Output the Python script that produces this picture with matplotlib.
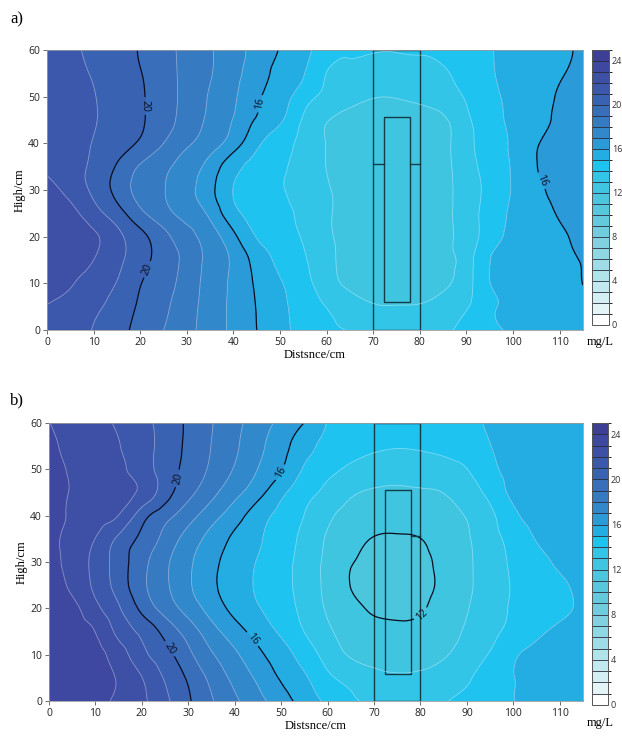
import numpy as np
import matplotlib
matplotlib.use("Agg")
import matplotlib.pyplot as plt
import matplotlib.tri as mtri
from matplotlib.colors import ListedColormap, BoundaryNorm
from matplotlib.colorbar import ColorbarBase
from matplotlib.patches import Rectangle

# grid of the measurement field (cm)
distance_cm = [0, 5, 10, 15, 20, 25, 30, 35, 40, 45, 50, 55,
               60, 65, 70, 75, 80, 85, 90, 95, 100, 105, 110, 115]
height_cm = [0, 5, 10, 15, 20, 25, 30, 35, 40, 45, 50, 55, 60]

# concentration (mg/L), one row per height, bottom row first -- panel a
conc_a = [
    [21.9, 21.5, 20.95, 20.34, 19.69, 19.0, 18.29, 17.54, 16.77, 16.0, 15.29, 14.68, 14.15, 13.97, 13.93, 13.92, 13.93, 13.97, 14.15, 14.72, 15.14, 15.36, 15.57, 15.78],
    [21.95, 21.6, 21.2, 20.61, 19.86, 19.2, 18.41, 17.57, 16.76, 15.96, 15.22, 14.6, 13.97, 13.5, 13.1, 13.05, 13.1, 13.4, 13.9, 14.8, 15.2, 15.42, 15.64, 15.86],
    [22.5, 22.1, 21.55, 20.96, 20.05, 19.38, 18.56, 17.63, 16.78, 15.85, 15.08, 14.35, 13.45, 12.8, 12.6, 12.55, 12.6, 12.85, 13.6, 14.98, 15.24, 15.48, 15.71, 16.01],
    [22.5, 22.4, 22.0, 21.26, 20.38, 19.55, 18.69, 17.69, 16.81, 15.61, 14.78, 14.13, 13.27, 12.75, 12.55, 12.5, 12.55, 12.8, 13.5, 14.98, 15.26, 15.51, 15.78, 16.06],
    [22.6, 22.45, 22.15, 21.29, 20.31, 19.31, 18.38, 17.46, 16.24, 14.95, 14.44, 13.9, 13.17, 12.7, 12.5, 12.45, 12.5, 12.75, 13.45, 14.53, 15.21, 15.54, 15.87, 16.2],
    [22.6, 22.3, 21.41, 20.44, 19.24, 18.36, 17.62, 16.78, 15.29, 14.67, 14.26, 13.78, 13.14, 12.7, 12.5, 12.45, 12.5, 12.75, 13.5, 14.43, 15.16, 15.63, 16.08, 16.35],
    [22.45, 21.67, 20.8, 19.69, 18.65, 18.04, 17.32, 16.28, 14.97, 14.55, 14.12, 13.62, 13.1, 12.65, 12.45, 12.4, 12.45, 12.75, 13.45, 14.3, 15.08, 15.79, 16.25, 16.55],
    [21.8, 21.4, 20.8, 19.91, 18.9, 18.23, 17.52, 16.61, 15.35, 14.67, 14.17, 13.61, 12.98, 12.6, 12.4, 12.4, 12.45, 12.75, 13.55, 14.4, 15.11, 15.97, 16.4, 16.7],
    [21.85, 21.45, 20.95, 20.43, 19.86, 19.0, 18.17, 17.45, 16.47, 15.22, 14.42, 13.7, 12.97, 12.6, 12.45, 12.45, 12.5, 12.75, 13.68, 14.47, 15.17, 15.92, 16.35, 16.6],
    [21.9, 21.55, 21.08, 20.6, 20.13, 19.41, 18.6, 17.8, 16.95, 15.9, 15.15, 13.88, 13.05, 12.75, 12.6, 12.6, 12.65, 12.85, 13.81, 14.58, 15.22, 15.67, 16.2, 16.55],
    [21.9, 21.5, 21.05, 20.58, 20.12, 19.45, 18.69, 17.91, 17.15, 16.15, 15.47, 14.48, 13.7, 13.3, 13.05, 13.05, 13.2, 13.5, 14.1, 14.75, 15.25, 15.67, 16.08, 16.4],
    [21.78, 21.35, 20.91, 20.48, 20.04, 19.4, 18.73, 18.07, 17.29, 16.48, 15.72, 15.07, 13.98, 13.8, 13.7, 13.7, 13.75, 13.9, 14.37, 14.9, 15.27, 15.6, 15.93, 16.2],
    [21.6, 21.2, 20.77, 20.36, 19.94, 19.34, 18.72, 18.09, 17.37, 16.65, 15.94, 15.25, 14.48, 14.05, 14.02, 14.02, 14.05, 14.2, 14.6, 14.95, 15.25, 15.54, 15.83, 16.12],
]

# panel b
conc_b = [
    [23.4, 23.35, 23.2, 22.83, 22.2, 21.23, 20.13, 19.1, 18.18, 17.33, 16.45, 15.58, 14.8, 14.13, 13.9, 13.85, 13.87, 13.95, 14.3, 14.64, 14.98, 15.25, 15.4, 15.5],
    [23.5, 23.4, 23.3, 22.91, 22.02, 20.9, 19.86, 18.73, 17.73, 16.81, 15.9, 15.15, 14.2, 13.7, 13.3, 13.15, 13.2, 13.45, 13.85, 14.56, 14.98, 15.3, 15.45, 15.55],
    [23.5, 23.4, 23.25, 22.5, 21.3, 20.36, 19.25, 18.11, 17.18, 16.23, 15.44, 14.56, 13.62, 12.9, 12.65, 12.6, 12.65, 12.9, 13.47, 14.08, 14.85, 15.25, 15.45, 15.55],
    [23.5, 23.3, 22.98, 21.7, 20.77, 19.68, 18.56, 17.4, 16.43, 15.6, 14.83, 13.98, 13.17, 12.55, 12.25, 12.2, 12.25, 12.55, 13.14, 13.75, 14.3, 14.8, 15.2, 15.4],
    [23.45, 23.25, 22.27, 21.11, 19.75, 18.6, 17.6, 16.59, 15.72, 15.07, 14.44, 13.73, 12.88, 12.25, 11.9, 11.8, 11.9, 12.42, 12.95, 13.58, 14.1, 14.45, 14.8, 15.15],
    [23.4, 22.8, 21.78, 20.57, 19.25, 18.17, 17.16, 16.19, 15.51, 14.87, 14.32, 13.61, 12.74, 11.98, 11.7, 11.6, 11.72, 12.23, 12.84, 13.47, 14.08, 14.46, 14.85, 15.2],
    [23.36, 22.64, 21.7, 20.53, 19.33, 18.21, 17.2, 16.27, 15.56, 14.94, 14.35, 13.62, 12.76, 12.07, 11.75, 11.65, 11.75, 12.29, 12.85, 13.51, 14.16, 14.68, 15.15, 15.4],
    [23.35, 22.67, 21.98, 20.8, 19.76, 18.67, 17.6, 16.64, 15.8, 15.13, 14.47, 13.73, 12.9, 12.4, 11.95, 11.9, 11.99, 12.45, 12.9, 13.62, 14.36, 15.05, 15.35, 15.55],
    [23.3, 22.88, 22.44, 21.98, 20.45, 19.36, 18.4, 17.4, 16.45, 15.45, 14.71, 13.98, 13.17, 12.75, 12.5, 12.4, 12.45, 12.6, 13.07, 13.79, 14.78, 15.3, 15.5, 15.6],
    [23.3, 22.94, 22.6, 22.27, 21.78, 20.46, 19.29, 18.3, 17.3, 16.36, 15.25, 14.38, 13.71, 13.12, 12.9, 12.85, 12.9, 13.02, 13.56, 14.29, 15.2, 15.45, 15.6, 15.65],
    [23.25, 22.9, 22.54, 22.18, 21.5, 20.55, 19.67, 18.82, 17.91, 16.98, 16.07, 14.88, 14.25, 13.8, 13.5, 13.4, 13.45, 13.6, 13.98, 14.77, 15.25, 15.45, 15.6, 15.65],
    [23.15, 22.78, 22.41, 22.04, 21.4, 20.64, 19.77, 18.98, 18.17, 17.27, 16.36, 15.4, 14.7, 14.35, 14.15, 14.05, 14.1, 14.25, 14.55, 14.98, 15.3, 15.5, 15.6, 15.65],
    [23.02, 22.65, 22.28, 21.87, 21.3, 20.62, 19.82, 19.05, 18.28, 17.51, 16.75, 15.98, 14.95, 14.6, 14.35, 14.25, 14.3, 14.45, 14.75, 15.1, 15.35, 15.5, 15.6, 15.65],
]

# colour of each 1 mg/L band, 0-1 up to 24-25
band_colors = [
    "#ffffff", "#e4f5f8", "#d3eff4", "#c3e9f0", "#b1e3eb", "#a0dce7",
    "#8fd7e3", "#80d2e0", "#70cddd", "#63cadc", "#57c8dc", "#4bc6dc",
    "#3fc5df", "#33c5e7", "#1fc3f0", "#23ade2", "#2a9bd8", "#3189cc",
    "#367ac2", "#386eba", "#3a62b3", "#3c58ad", "#3e4fa6", "#3f48a0",
    "#3d3f96",
]
levels = list(range(0, 26))
bold_levels = [12, 16, 20, 24]
thin_levels = [lv for lv in range(1, 25) if lv % 4 != 0]
cbar_ticks = [0, 4, 8, 12, 16, 20, 24]
x_ticks = [0, 10, 20, 30, 40, 50, 60, 70, 80, 90, 100, 110]
y_ticks = [0, 10, 20, 30, 40, 50, 60]

# labels on the bold contours (where they sit in the picture)
labels_a = [(21.5, 48), (21.5, 13), (45.7, 48.5), (105, 31.5)]
labels_b = [(27.8, 48), (26.3, 11.5), (50.4, 49), (44, 13.5), (79.5, 19.5)]

# outlines of the column and the inner tube (cm)
outer_x = [70, 80]
outer_y = [0, 60]
inner_x = [72.3, 77.9]
inner_y = [5.9, 45.6]
tab_y = 35.6

cmap = ListedColormap(band_colors)
norm = BoundaryNorm(levels, cmap.N)

serif = "Liberation Serif"
plt.rcParams["font.family"] = ["Open Sans", "DejaVu Sans"]

fig = plt.figure(figsize=(6.22, 7.42), dpi=100)
W, H = 622, 742


def px_axes(l, t, r, b):
    return fig.add_axes([l / W, 1 - b / H, (r - l) / W, (b - t) / H])


def draw_panel(ax, cax, conc, lab_pos, both_tabs):
    # smooth the measured grid with matplotlib's own triangulation refiner
    X, Y = np.meshgrid(distance_cm, height_cm)
    z = np.array(conc).ravel()
    tri = mtri.Triangulation(X.ravel(), Y.ravel())
    interp = mtri.CubicTriInterpolator(tri, z, kind="min_E")
    tri_f, z_f = mtri.UniformTriRefiner(tri).refine_field(
        z, triinterpolator=interp, subdiv=3)

    ax.tricontourf(tri_f, z_f, levels=levels, cmap=cmap, norm=norm)
    ax.tricontour(tri_f, z_f, levels=thin_levels,
                  colors=[(1, 1, 1, 0.4)], linewidths=0.6)
    cs = ax.tricontour(tri_f, z_f, levels=bold_levels,
                       colors="#0d0d1f", linewidths=0.9)
    ax.clabel(cs, manual=lab_pos, fmt="%d", fontsize=7.5,
              inline=True, inline_spacing=3)

    box_col = "#143c47"
    ax.add_patch(Rectangle((outer_x[0], outer_y[0]), outer_x[1] - outer_x[0],
                           outer_y[1] - outer_y[0], fill=False,
                           ec=box_col, lw=1.0))
    ax.add_patch(Rectangle((inner_x[0], inner_y[0]), inner_x[1] - inner_x[0],
                           inner_y[1] - inner_y[0], fill=False,
                           ec=box_col, lw=1.0))
    ax.plot([inner_x[1], outer_x[1]], [tab_y, tab_y], color=box_col, lw=1.0)
    if both_tabs:
        ax.plot([outer_x[0], inner_x[0]], [tab_y, tab_y], color=box_col, lw=1.0)

    ax.set_xlim(0, 115)
    ax.set_ylim(0, 60)
    ax.set_xticks(x_ticks)
    ax.set_yticks(y_ticks)
    ax.tick_params(direction="out", length=3, width=0.6, color="#555555",
                   labelsize=7.5, labelcolor="#222222", pad=2)
    for s in ax.spines.values():
        s.set_color("#9a9a9a")
        s.set_linewidth(0.6)
    ax.set_xlabel("Distsnce/cm", family=serif, fontsize=9, labelpad=1)
    ax.set_ylabel("High/cm", family=serif, fontsize=9, labelpad=2)

    cb = ColorbarBase(cax, cmap=cmap, norm=norm, boundaries=levels,
                      ticks=cbar_ticks, drawedges=True)
    cb.dividers.set_color("#2a2a3a")
    cb.dividers.set_linewidth(0.6)
    cb.outline.set_edgecolor("#555555")
    cb.outline.set_linewidth(0.7)
    cax.tick_params(length=0, labelsize=6.5, labelcolor="#333333", pad=2)


ax_a = px_axes(47, 50, 583, 330)
cax_a = px_axes(592, 50, 609, 325)
draw_panel(ax_a, cax_a, conc_a, labels_a, True)

ax_b = px_axes(49, 423, 583, 701)
cax_b = px_axes(592, 423, 608, 705)
draw_panel(ax_b, cax_b, conc_b, labels_b, False)

fig.text(600 / W, 1 - 342 / H, "mg/L", family=serif, fontsize=9,
         ha="center", va="center")
fig.text(600 / W, 1 - 723 / H, "mg/L", family=serif, fontsize=9,
         ha="center", va="center")
fig.text(10 / W, 1 - 19 / H, "a)", family=serif, fontsize=12,
         ha="left", va="center")
fig.text(10 / W, 1 - 400 / H, "b)", family=serif, fontsize=12,
         ha="left", va="center")

fig.savefig("out.png", dpi=100)
